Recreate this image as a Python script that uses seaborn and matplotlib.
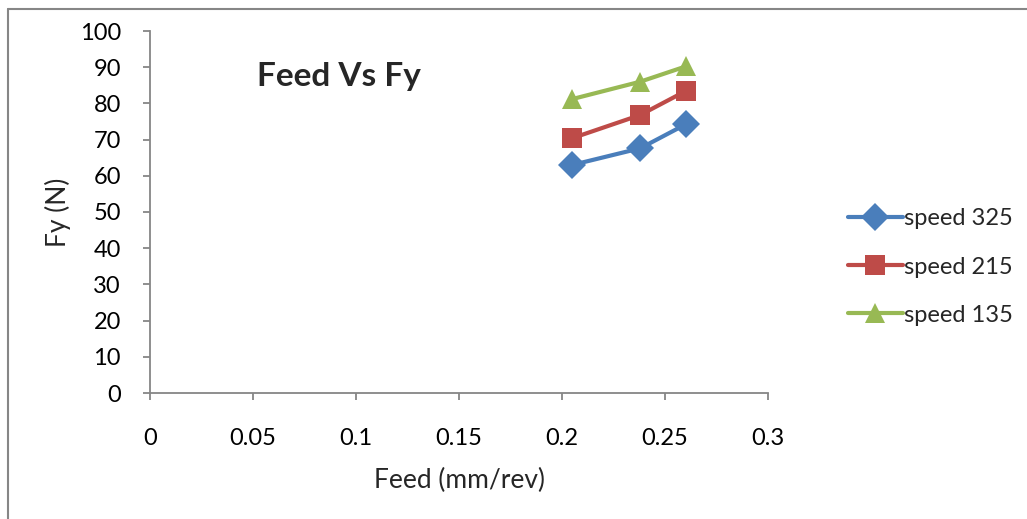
import matplotlib
matplotlib.use("Agg")
import matplotlib.pyplot as plt
import seaborn as sns
import pandas as pd

feed = [0.205, 0.238, 0.26]
speed_325 = [63.0, 67.6, 74.2]
speed_215 = [70.4, 76.8, 83.4]
speed_135 = [81.2, 86.0, 90.2]
series_names = ["speed 325", "speed 215", "speed 135"]
colors = ["#4A7EBB", "#BE4B48", "#98B954"]
markers = ["D", "s", "^"]
x_ticks = [0, 0.05, 0.1, 0.15, 0.2, 0.25, 0.3]
x_tick_labels = ["0", "0.05", "0.1", "0.15", "0.2", "0.25", "0.3"]
y_ticks = list(range(0, 101, 10))

sns.set_style("white")
plt.rcParams['font.family'] = ['Lato', 'DejaVu Sans']
plt.rcParams['xtick.bottom'] = True
plt.rcParams['ytick.left'] = True
plt.rcParams['xtick.major.size'] = 5
plt.rcParams['ytick.major.size'] = 5

rows = []
for name, vals in zip(series_names, [speed_325, speed_215, speed_135]):
    for f, v in zip(feed, vals):
        rows.append({"feed": f, "fy": v, "series": name})
df = pd.DataFrame(rows)

fig = plt.figure(figsize=(10.27, 5.19), dpi=100)
ax = fig.add_axes([150/1027, 1-393/519, (768-150)/1027, (393-31)/519])

sns.lineplot(data=df, x="feed", y="fy", hue="series", style="series",
             hue_order=series_names, style_order=series_names,
             palette=dict(zip(series_names, colors)),
             markers=dict(zip(series_names, markers)), dashes=False,
             linewidth=3, markersize=14, markeredgewidth=0, ax=ax, legend=False)

ax.set_xlim(0, 0.3)
ax.set_ylim(0, 100)
ax.set_xticks(x_ticks)
ax.set_xticklabels(x_tick_labels)
ax.set_yticks(y_ticks)
ax.tick_params(axis='both', labelsize=17, labelcolor='#000000', length=5, width=1.3,
               direction='out', color='#868686', bottom=True, left=True)
ax.tick_params(axis='x', pad=20)
ax.tick_params(axis='y', pad=16)
for s in ['top', 'right']:
    ax.spines[s].set_visible(False)
for s in ['left', 'bottom']:
    ax.spines[s].set_color('#868686')
    ax.spines[s].set_linewidth(1.3)
ax.set_xlabel("Feed (mm/rev)", fontsize=19, labelpad=14)
ax.set_ylabel("Fy (N)", fontsize=19, labelpad=6)
ax.text(0.052, 87.3, "Feed Vs Fy", fontsize=24, fontweight='bold', va='center', ha='left')

# legend
handles = [plt.Line2D([], [], color=c, marker=m, lw=3, markersize=14, markeredgewidth=0)
           for c, m in zip(colors, markers)]
fig.legend(handles, series_names, loc='center left', bbox_to_anchor=(827/1027, 1-267/519),
           frameon=False, fontsize=17, handlelength=2.3, handletextpad=0.05, labelspacing=1.15)

# outer border (left and top)
fig.add_artist(plt.Line2D([8/1027, 8/1027], [0, 1-9/519], transform=fig.transFigure,
                          color='#868686', lw=1.5))
fig.add_artist(plt.Line2D([8/1027, 1], [1-9/519, 1-9/519], transform=fig.transFigure,
                          color='#868686', lw=1.5))

fig.savefig("out.png", dpi=100)
